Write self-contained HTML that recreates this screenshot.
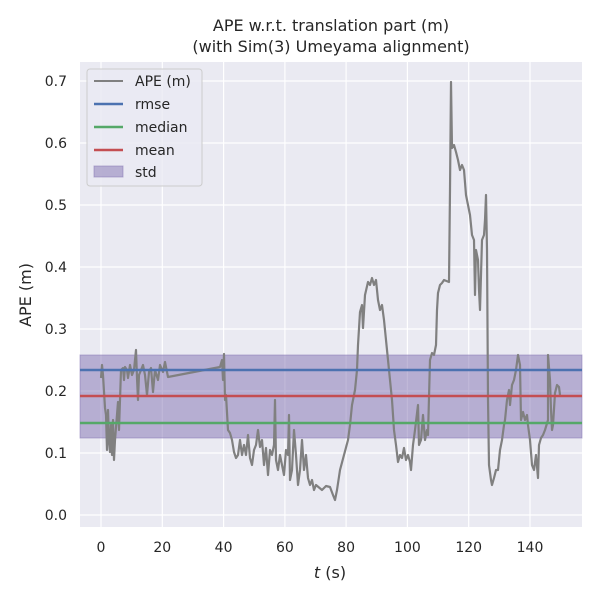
<!DOCTYPE html>
<html><head><meta charset="utf-8"><style>body{margin:0;background:#fff}svg{display:block;font-family:"DejaVu Sans","Liberation Sans",sans-serif}</style></head><body>
<svg width="600" height="600" viewBox="0 0 600 600">
<rect width="600" height="600" fill="#fff"/>
<rect x="80" y="62" width="502" height="465" fill="#eaeaf2"/>
<g stroke="#fff" stroke-width="1.2">
<line x1="101" y1="62" x2="101" y2="527"/><line x1="162.3" y1="62" x2="162.3" y2="527"/><line x1="223.6" y1="62" x2="223.6" y2="527"/><line x1="284.9" y1="62" x2="284.9" y2="527"/><line x1="346.1" y1="62" x2="346.1" y2="527"/><line x1="407.4" y1="62" x2="407.4" y2="527"/><line x1="468.7" y1="62" x2="468.7" y2="527"/><line x1="530" y1="62" x2="530" y2="527"/>
<line x1="80" y1="515" x2="582" y2="515"/><line x1="80" y1="453" x2="582" y2="453"/><line x1="80" y1="391" x2="582" y2="391"/><line x1="80" y1="329" x2="582" y2="329"/><line x1="80" y1="267" x2="582" y2="267"/><line x1="80" y1="205" x2="582" y2="205"/><line x1="80" y1="143" x2="582" y2="143"/><line x1="80" y1="81" x2="582" y2="81"/>
</g>
<rect x="80" y="355" width="502" height="83" fill="#8172b2" fill-opacity="0.5" stroke="#8172b2" stroke-opacity="0.5"/>
<polyline fill="none" stroke="#808080" stroke-width="2.2" stroke-linejoin="round" points="101,378 102,365 103,375 105,408 106,415 107,450 108,410 109,440 110,452 111,425 112,455 113,420 114,460 115,440 118,402 119,430 121,370 123,368 124,380 125,367 127,370 128,378 130,365 132,375 134,370 136,350 137,378 138,400 139,375 141,370 143,365 145,375 147,395 149,372 151,368 153,392 155,370 158,380 160,365 163,372 165,362 168,377 220,367 222,360 223,380 224,354 225,400 226,395 228,430 230,433 232,440 234,452 236,458 238,455 240,440 242,455 244,445 246,455 248,435 250,458 252,465 254,450 256,445 258,430 260,447 262,440 264,465 266,448 268,475 270,450 272,455 274,445 275,400 276,460 278,470 280,455 282,465 284,475 286,450 288,455 289,415 290,480 292,470 294,430 296,455 298,485 300,470 302,440 304,470 306,455 308,478 310,485 312,480 314,490 316,485 322,490 326,486 330,487 333,495 335,500 337,490 340,470 344,455 348,440 350,425 352,405 355,390 357,370 358,345 360,312 362,305 363,328 365,295 368,282 370,285 372,278 374,285 376,280 378,300 380,310 382,305 384,320 386,340 388,360 390,380 392,400 394,430 396,445 398,462 400,455 402,458 404,448 406,460 408,455 410,462 411,470 413,445 415,430 418,405 419,445 421,440 423,415 425,440 427,430 428,435 430,360 432,353 434,355 436,345 437,310 438,293 440,285 442,283 444,280 449,282 450,190 451,82 452,148 454,145 456,152 458,160 460,170 462,165 464,170 466,195 468,205 470,215 472,235 474,240 475,295 476,250 478,260 479,290 480,310 482,240 484,235 485,220 486,195 487,250 488,400 489,465 491,480 492,485 494,478 496,470 498,470 500,450 502,440 504,425 505,420 507,400 509,390 510,405 512,385 514,380 516,370 518,355 520,365 521,420 523,412 525,420 527,415 528,425 530,440 532,465 534,470 536,455 538,478 539,445 541,438 543,435 545,430 548,420 548,355 550,380 551,410 552,430 553,425 555,393 557,385 559,387 560,395"/>
<line x1="80" y1="370" x2="582" y2="370" stroke="#4c72b0" stroke-width="2.5"/>
<line x1="80" y1="423" x2="582" y2="423" stroke="#55a868" stroke-width="2.5"/>
<line x1="80" y1="396" x2="582" y2="396" stroke="#c44e52" stroke-width="2.5"/>
<g fill="#262626" font-size="14" text-anchor="middle">
<text x="101" y="552">0</text><text x="162.3" y="552">20</text><text x="223.6" y="552">40</text><text x="284.9" y="552">60</text><text x="346.1" y="552">80</text><text x="407.4" y="552">100</text><text x="468.7" y="552">120</text><text x="530" y="552">140</text>
</g>
<g fill="#262626" font-size="14" text-anchor="end">
<text x="67" y="520">0.0</text><text x="67" y="458">0.1</text><text x="67" y="396">0.2</text><text x="67" y="334">0.3</text><text x="67" y="272">0.4</text><text x="67" y="210">0.5</text><text x="67" y="148">0.6</text><text x="67" y="86">0.7</text>
</g>
<text x="330" y="578" font-size="16" fill="#262626" text-anchor="middle"><tspan font-style="italic">t</tspan> (s)</text>
<text transform="translate(31,295) rotate(-90)" font-size="16" fill="#262626" text-anchor="middle">APE (m)</text>
<text x="331" y="31" font-size="16" fill="#262626" text-anchor="middle">APE w.r.t. translation part (m)</text>
<text x="331" y="52" font-size="16" fill="#262626" text-anchor="middle">(with Sim(3) Umeyama alignment)</text>
<rect x="87" y="69" width="115" height="117" rx="3" fill="#eaeaf2" fill-opacity="0.8" stroke="#ccc"/>
<g stroke-width="2.5"><line x1="94" y1="81" x2="123" y2="81" stroke="#808080" stroke-width="2"/><line x1="94" y1="104" x2="123" y2="104" stroke="#4c72b0"/><line x1="94" y1="127" x2="123" y2="127" stroke="#55a868"/><line x1="94" y1="150" x2="123" y2="150" stroke="#c44e52"/></g>
<rect x="94" y="166" width="29" height="11" fill="#8172b2" fill-opacity="0.5" stroke="#8172b2" stroke-opacity="0.5"/>
<g fill="#262626" font-size="14"><text x="135" y="86">APE (m)</text><text x="135" y="109">rmse</text><text x="135" y="132">median</text><text x="135" y="155">mean</text><text x="135" y="177">std</text></g>
</svg>
</body></html>
